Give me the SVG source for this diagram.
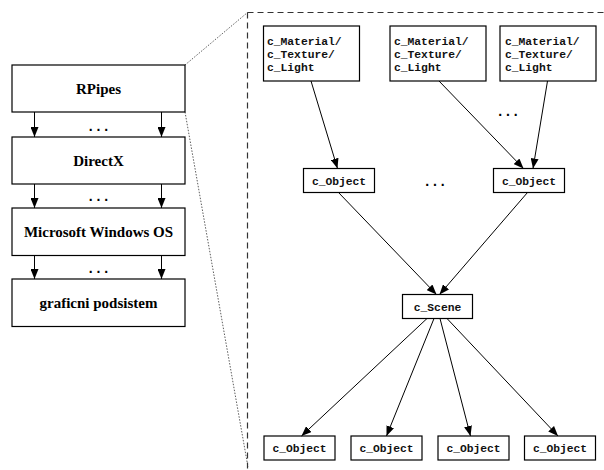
<svg xmlns="http://www.w3.org/2000/svg" width="604" height="470" viewBox="0 0 604 470">
<style>
.box{fill:#fff;stroke:#000;stroke-width:1.2}
.lt{font-family:"Liberation Serif",serif;font-weight:bold;font-size:15px;fill:#000;text-anchor:middle}
.mt{font-family:"Liberation Mono",monospace;font-weight:bold;font-size:11.3px;fill:#111}
.mc{text-anchor:middle}
.ln{stroke:#000;stroke-width:1;fill:none}
.dots{font-family:"Liberation Sans",sans-serif;font-weight:bold;font-size:14px;fill:#000;text-anchor:middle}
</style>
<defs>
<marker id="ah" markerUnits="userSpaceOnUse" markerWidth="10" markerHeight="8" viewBox="0 0 10 8" refX="10" refY="4" orient="auto">
<path d="M0,0 L10,4 L0,8 z" fill="#000"/>
</marker>
</defs>
<rect width="604" height="470" fill="#fff"/>
<!-- zoom frame -->
<g id="frame">
<path d="M247.5,12.5 H604 M247.5,12.5 V470" stroke="#333" stroke-width="1.2" fill="none" stroke-dasharray="6,4"/>
<path d="M185,65 L247.5,12.5 M185,112 L248,467" stroke="#333" stroke-width="0.8" fill="none" stroke-dasharray="1.5,1.5"/>
</g>
<!-- left stack -->
<g id="rpipes"><rect class="box" x="12" y="65" width="173" height="47"/><text class="lt" x="98.5" y="93.5">RPipes</text></g>
<g id="directx"><rect class="box" x="12" y="137" width="173" height="47"/><text class="lt" x="98.5" y="165.5">DirectX</text></g>
<g id="windows"><rect class="box" x="12" y="208" width="173" height="47.5"/><text class="lt" x="98.5" y="237">Microsoft Windows OS</text></g>
<g id="graficni"><rect class="box" x="12" y="279" width="173" height="47.5"/><text class="lt" x="98.5" y="308">graficni podsistem</text></g>
<!-- right nodes -->
<g id="m1"><rect class="box" x="263.5" y="26" width="96" height="55"/><text class="mt" x="267" y="44.5">c_Material/</text><text class="mt" x="267" y="57.5">c_Texture/</text><text class="mt" x="267" y="70.5">c_Light</text></g>
<g id="m2"><rect class="box" x="390" y="26" width="96" height="55"/><text class="mt" x="394" y="44.5">c_Material/</text><text class="mt" x="394" y="57.5">c_Texture/</text><text class="mt" x="394" y="70.5">c_Light</text></g>
<g id="m3"><rect class="box" x="500" y="26" width="96" height="55"/><text class="mt" x="505" y="44.5">c_Material/</text><text class="mt" x="505" y="57.5">c_Texture/</text><text class="mt" x="505" y="70.5">c_Light</text></g>
<g id="o1"><rect class="box" x="303.5" y="168.5" width="71" height="24"/><text class="mt mc" x="339" y="184.5">c_Object</text></g>
<g id="o2"><rect class="box" x="493.5" y="168.5" width="71" height="24"/><text class="mt mc" x="529" y="184.5">c_Object</text></g>
<g id="scene"><rect class="box" x="402.5" y="294.5" width="70" height="24"/><text class="mt mc" x="437.5" y="310.5">c_Scene</text></g>
<g id="b1"><rect class="box" x="264" y="436" width="71" height="24"/><text class="mt mc" x="299.5" y="452">c_Object</text></g>
<g id="b2"><rect class="box" x="351" y="436" width="71" height="24"/><text class="mt mc" x="386.5" y="452">c_Object</text></g>
<g id="b3"><rect class="box" x="438" y="436" width="71" height="24"/><text class="mt mc" x="473.5" y="452">c_Object</text></g>
<g id="b4"><rect class="box" x="524.5" y="436" width="71" height="24"/><text class="mt mc" x="560" y="452">c_Object</text></g>
<!-- ellipses -->
<g id="ellipses">
<text class="dots" x="98.5" y="131">. . .</text>
<text class="dots" x="98.5" y="201">. . .</text>
<text class="dots" x="98.5" y="273">. . .</text>
<text class="dots" x="508" y="116">. . .</text>
<text class="dots" x="435" y="186">. . .</text>
</g>
<!-- connectors -->
<g id="connectors" class="ln" marker-end="url(#ah)">
<line x1="34.5" y1="112" x2="34.5" y2="137"/>
<line x1="161.5" y1="112" x2="161.5" y2="137"/>
<line x1="34.5" y1="184" x2="34.5" y2="208"/>
<line x1="161.5" y1="184" x2="161.5" y2="208"/>
<line x1="34.5" y1="255.5" x2="34.5" y2="279"/>
<line x1="161.5" y1="255.5" x2="161.5" y2="279"/>
<line x1="311" y1="81" x2="337.5" y2="168.5"/>
<line x1="439" y1="81" x2="523.5" y2="168.5"/>
<line x1="547.5" y1="81" x2="533" y2="168.5"/>
<line x1="338.5" y1="192.5" x2="436.5" y2="294.5"/>
<line x1="527.5" y1="192.5" x2="439.5" y2="294.5"/>
<line x1="427" y1="318.5" x2="301.5" y2="436"/>
<line x1="434" y1="318.5" x2="386.5" y2="436"/>
<line x1="440" y1="318.5" x2="470.5" y2="436"/>
<line x1="447" y1="318.5" x2="558" y2="436"/>
</g>
</svg>
